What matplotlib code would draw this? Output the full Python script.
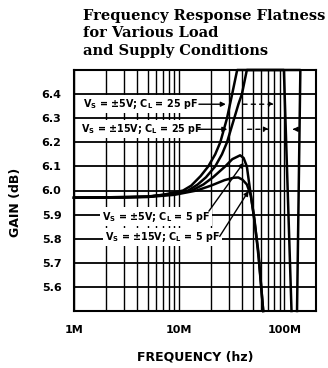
import numpy as np
import matplotlib.pyplot as plt
from matplotlib.ticker import FixedLocator, NullFormatter

plt.rcParams['font.family'] = ['DejaVu Sans']
plt.rcParams['mathtext.default'] = 'bf'

# curves (frequency in Hz, gain in dB)
freq_a = [1e6, 3e6, 5e6, 7e6, 9e6, 10.9e6, 13e6, 16e6, 18.9e6, 22e6, 24.6e6,
          28.5e6, 31.9e6, 35.6e6, 99e6, 117e6]
gain_a = [5.97, 5.971, 5.975, 5.982, 5.992, 6.0, 6.02, 6.06, 6.1, 6.15, 6.2,
          6.3, 6.4, 6.5, 6.5, 5.5]

freq_b = [1e6, 5e6, 8e6, 10e6, 12.2e6, 15e6, 18e6, 22e6, 25.5e6, 28.5e6, 33.4e6,
          36.7e6, 39.5e6, 44e6, 142e6, 132e6]
gain_b = [5.97, 5.974, 5.985, 5.992, 6.0, 6.025, 6.055, 6.1, 6.15, 6.2, 6.3,
          6.36, 6.4, 6.5, 6.5, 5.5]

freq_c = [1e6, 5e6, 8e6, 10e6, 13.2e6, 17e6, 21e6, 27.4e6, 32e6, 38e6, 41e6,
          44e6, 47.3e6, 51e6, 56.5e6, 63e6]
gain_c = [5.97, 5.974, 5.983, 5.99, 6.0, 6.025, 6.055, 6.1, 6.13, 6.146, 6.135,
          6.1, 6.0, 5.9, 5.75, 5.5]

freq_d = [1e6, 5e6, 9e6, 14.7e6, 20e6, 27e6, 33e6, 36.5e6, 40e6, 44e6, 48e6,
          52e6, 57e6, 63e6]
gain_d = [5.97, 5.973, 5.982, 6.0, 6.02, 6.043, 6.053, 6.054, 6.045, 6.025, 5.98,
          5.88, 5.72, 5.5]

x_ticks = [1e6, 1e7, 1e8]
x_labels = ["1M", "10M", "100M"]
y_ticks = [5.6, 5.7, 5.8, 5.9, 6.0, 6.1, 6.2, 6.3, 6.4]

fig = plt.figure(figsize=(3.28, 3.68), dpi=100)
ax = fig.add_axes([74/328, 1-311/368, 242/328, 241/368])

ax.set_xscale("log")
ax.set_xlim(1e6, 2e8)
ax.set_ylim(5.5, 6.5)

ax.xaxis.set_major_locator(FixedLocator(x_ticks))
ax.set_xticklabels(x_labels)
minor = [m * d for d in (1e6, 1e7, 1e8) for m in range(2, 10) if m * d < 2e8]
ax.xaxis.set_minor_locator(FixedLocator(minor))
ax.xaxis.set_minor_formatter(NullFormatter())
ax.set_yticks(y_ticks)
ax.set_yticklabels(["%.1f" % v for v in y_ticks])

ax.grid(True, which="major", axis="y", color="black", lw=1.3)
ax.grid(True, which="both", axis="x", color="black", lw=1.0)
ax.tick_params(which="both", length=0)
ax.tick_params(axis="y", pad=9, labelsize=8)
ax.tick_params(axis="x", pad=10, labelsize=8)
for t in ax.get_xticklabels() + ax.get_yticklabels():
    t.set_fontweight("bold")
for s in ax.spines.values():
    s.set_linewidth(1.5)

for f, g in [(freq_a, gain_a), (freq_b, gain_b), (freq_c, gain_c), (freq_d, gain_d)]:
    ax.plot(f, g, color="black", lw=1.8, clip_on=False, solid_joinstyle="round")

lab_kw = dict(fontsize=6.9, fontweight="bold", va="center", ha="left",
              bbox=dict(fc="white", ec="none", pad=1.5))
arr = dict(arrowstyle="-|>", color="black", lw=1.0, mutation_scale=7)

# 25 pF labels
ax.text(1.22e6, 6.358, r"V$_S$ = ±5V; C$_L$ = 25 pF", **lab_kw)
ax.annotate("", xy=(29.5e6, 6.358), xytext=(14.5e6, 6.358), arrowprops=arr)
ax.annotate("", xy=(85e6, 6.358), xytext=(38e6, 6.358),
            arrowprops=dict(arr, linestyle=(0, (3, 3))))
ax.text(1.17e6, 6.254, r"V$_S$ = ±15V; C$_L$ = 25 pF", **lab_kw)
ax.annotate("", xy=(30.5e6, 6.254), xytext=(14e6, 6.254), arrowprops=arr)
ax.annotate("", xy=(76e6, 6.254), xytext=(42e6, 6.254),
            arrowprops=dict(arr, linestyle=(0, (3, 3))))
ax.annotate("", xy=(113e6, 6.254), xytext=(135e6, 6.254), arrowprops=arr)

# 5 pF labels
ax.text(1.85e6, 5.892, r"V$_S$ = ±5V; C$_L$ = 5 pF", **lab_kw)
ax.annotate("", xy=(42.5e6, 6.125), xytext=(18.5e6, 5.905), arrowprops=arr)
ax.text(1.97e6, 5.808, r"V$_S$ = ±15V; C$_L$ = 5 pF", **lab_kw)
ax.annotate("", xy=(47.3e6, 6.008), xytext=(23.5e6, 5.800), arrowprops=arr)

ax.set_xlabel("FREQUENCY (hz)", fontsize=9, fontweight="bold", labelpad=11)
ax.set_ylabel("GAIN (dB)", fontsize=9, fontweight="bold")
ax.yaxis.set_label_coords(-0.216, 0.45)

fig.text(83/328, 1-9/368, "Frequency Response Flatness\nfor Various Load\nand Supply Conditions",
         family="DejaVu Serif", fontweight="bold", fontsize=10.5, va="top", ha="left",
         linespacing=1.3)

fig.savefig("out.png", dpi=100)
